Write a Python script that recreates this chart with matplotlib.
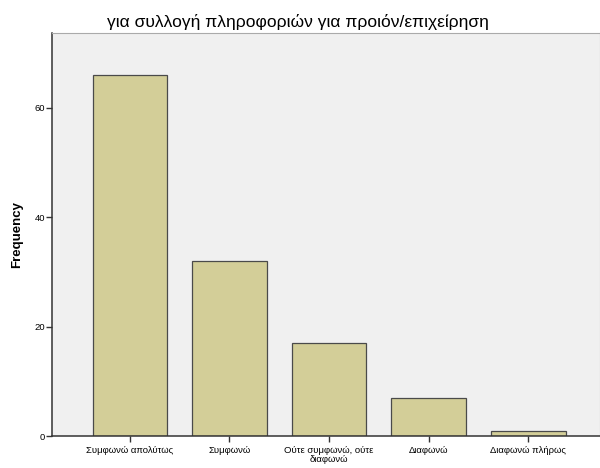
import matplotlib.pyplot as plt

plt.rcParams['font.family'] = ['Liberation Sans', 'DejaVu Sans']

categories = ["Συμφωνώ απολύτως", "Συμφωνώ", "Ούτε συμφωνώ, ούτε\nδιαφωνώ", "Διαφωνώ", "Διαφωνώ πλήρως"]
counts = [66, 32, 17, 7, 1]
y_ticks = [0, 20, 40, 60]

fig = plt.figure(figsize=(6, 4.68), dpi=100)
ax = fig.add_axes([0.087, 0.068, 0.913, 0.862])
ax.set_facecolor("#f0f0f0")

x = range(len(categories))
ax.bar(x, counts, width=0.75, color="#d3ce98", edgecolor="#4a4a4a", linewidth=0.9)

ax.set_xlim(-0.78, 4.72)
ax.set_ylim(0, 73.7)
ax.set_xticks(list(x))
ax.set_xticklabels(categories, fontsize=6.8, linespacing=0.95)
ax.set_yticks(y_ticks)
ax.tick_params(axis="y", labelsize=6.8, length=4, width=1, color="#333333", pad=1)
ax.tick_params(axis="x", length=4, width=1, color="#333333", pad=3)

for s in ["top", "right"]:
    ax.spines[s].set_color("#aaaaaa")
ax.spines["left"].set_color("#333333")
ax.spines["bottom"].set_color("#333333")
ax.spines["left"].set_linewidth(1.1)
ax.spines["bottom"].set_linewidth(1.1)

ax.set_ylabel("Frequency", fontsize=9.5, fontweight="bold", labelpad=8)
fig.text(0.497, 0.953, "για συλλογή πληροφοριών για προιόν/επιχείρηση",
         fontsize=12.5, ha="center", va="center")

fig.savefig("out.png", dpi=100)
